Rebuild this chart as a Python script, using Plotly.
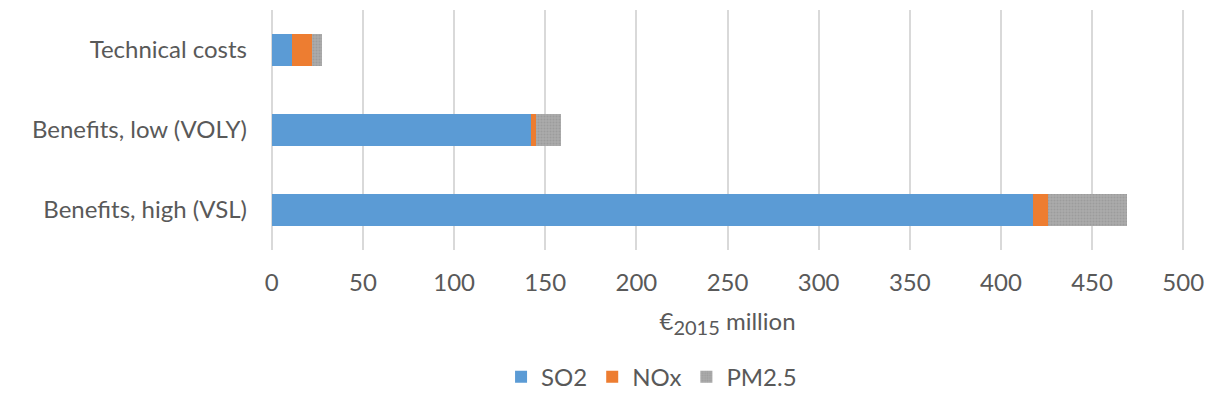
import plotly.graph_objects as go

categories = ["Technical costs", "Benefits, low (VOLY)", "Benefits, high (VSL)"]
so2 = [11.0, 142.4, 417.6]
nox = [11.0, 2.8, 8.5]
pm25 = [5.8, 13.6, 43.1]

series = [
    ("SO2", so2, "#5B9BD5", None),
    ("NOx", nox, "#ED7D31", None),
    ("PM2.5", pm25, "#A5A5A5",
     dict(shape=".", fgcolor="#8E8E8E", bgcolor="#ABABAB", size=3, solidity=0.35)),
]

font_family = "Lato, 'Open Sans', sans-serif"
text_color = "#595959"
fs = 24

fig = go.Figure()
for name, vals, color, pattern in series:
    marker = dict(color=color, line=dict(width=0))
    if pattern:
        marker["pattern"] = pattern
    fig.add_trace(go.Bar(
        name=name,
        y=categories,
        x=vals,
        orientation="h",
        marker=marker,
        width=0.39,
    ))

fig.update_layout(
    barmode="stack",
    width=1225,
    height=410,
    margin=dict(l=270, r=40, t=10, b=160),
    plot_bgcolor="white",
    paper_bgcolor="white",
    font=dict(family=font_family, size=fs, color=text_color),
    xaxis=dict(
        range=[-1, 501],
        tickvals=list(range(0, 501, 50)),
        showgrid=True,
        gridcolor="#D9D9D9",
        gridwidth=2,
        zeroline=False,
        showline=False,
        ticks="",
        ticklabelstandoff=16,
        tickfont=dict(size=fs, color=text_color),
        title=dict(
            text="€<sub><span style='font-size:20px'>2015</span></sub> million",
            font=dict(size=fs, color=text_color),
            standoff=18,
        ),
    ),
    yaxis=dict(
        autorange="reversed",
        showgrid=False,
        showline=False,
        ticks="",
        ticklabelstandoff=22,
        tickfont=dict(size=fs, color=text_color),
    ),
    legend=dict(
        orientation="h",
        x=0.417,
        xanchor="center",
        y=-0.53,
        yanchor="middle",
        font=dict(size=fs, color=text_color),
        traceorder="normal",
        itemwidth=30,
    ),
    showlegend=True,
)

fig.write_html("out.html")
